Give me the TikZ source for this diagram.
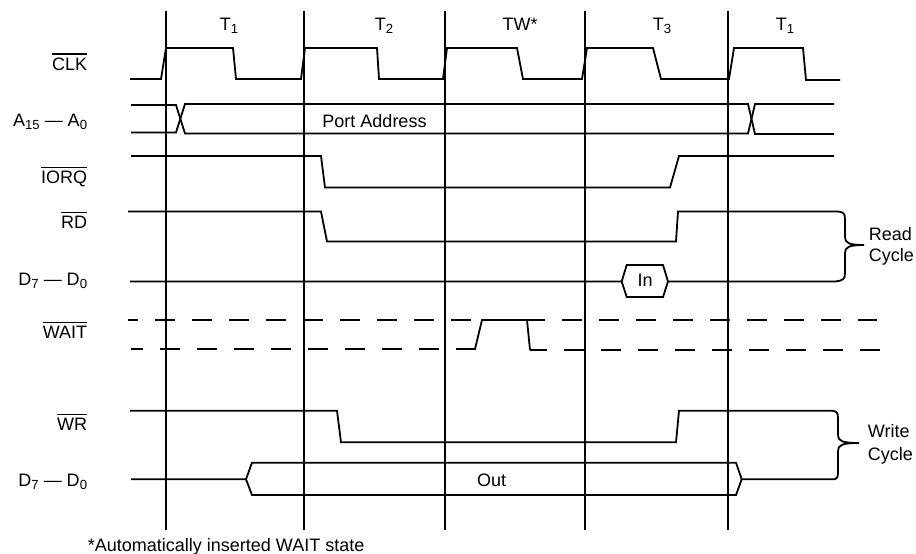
\documentclass[tikz,border=0pt]{standalone}
\usepackage{fontspec}
\setmainfont{Liberation Sans}
\newcommand\ovbar[1]{\setbox0\hbox{#1}\rlap{\raisebox{\dimexpr\ht0+2.6pt\relax}{\rule{\wd0}{1.5pt}}}\box0}
\newcommand\subx[1]{\raisebox{-3pt}{\fontsize{13.2}{14}\selectfont #1}}
\begin{document}
\begin{tikzpicture}[x=1pt,y=-1pt,line width=1.8pt,line join=miter,
  tx/.style={font=\fontsize{18}{20}\selectfont,inner sep=0pt},
  lbl/.style={tx,anchor=base east},
  hdr/.style={tx,anchor=base},
  wave/.style={line width=1.8pt},
  dsh/.style={line width=1.8pt,dash pattern=on 20pt off 17pt}]
\useasboundingbox (0,0) rectangle (916,554);
% period boundaries
\foreach \x in {166,304,445,585,728} \draw (\x,11) -- (\x,530);
% headers
\node[hdr] (h1) at (229,30.7) {T\subx{1}};
\node[hdr] (h2) at (384,30.7) {T\subx{2}};
\node[hdr] (h3) at (520,30.2) {TW*};
\node[hdr] (h4) at (662,30.7) {T\subx{3}};
\node[hdr] (h5) at (785,30.7) {T\subx{1}};
% signal labels
\node[lbl] (lclk) at (88,70) {\ovbar{CLK}};
\node[lbl] (ladr) at (88,126.7) {A\subx{15} — A\subx{0}};
\node[lbl] (liorq) at (88,183.3) {\ovbar{IORQ}};
\node[lbl] (lrd) at (88,228.3) {\ovbar{RD}};
\node[lbl] (ldr) at (88,285) {D\subx{7} — D\subx{0}};
\node[lbl] (lwait) at (88,338.3) {\ovbar{WAIT}};
\node[lbl] (lwr) at (88,430) {\ovbar{WR}};
\node[lbl] (ldw) at (88,486) {D\subx{7} — D\subx{0}};
% CLK
\draw[wave] (130,79) -- (161,79) -- (166,48) -- (233,48) -- (236,79) -- (301,79) -- (305,48)
  -- (377,48) -- (379,79) -- (443,79) -- (447,48) -- (517,48) -- (523,79) -- (582,79)
  -- (587,48) -- (653,48) -- (661,79) -- (729,79) -- (734,48) -- (803,48) -- (806,80) -- (840,80);
% Address bus
\draw[wave] (131,105) -- (176,105) -- (185,133.5) -- (748,133.5) -- (755,104) -- (834,104);
\draw[wave] (131,132.5) -- (176,132.5) -- (185,104) -- (748,104) -- (755,134) -- (834,134);
\node[hdr] (padr) at (374.5,127.3) {Port Address};
% IORQ
\draw[wave] (131,156) -- (321,156) -- (325,187.5) -- (670,187.5) -- (679,156) -- (834,156);
% RD
\draw[wave] (128,211.5) -- (321,211.5) -- (327,241.5) -- (676,241.5) -- (678,211.5) -- (835,211.5);
% D read
\draw[wave] (130,281.5) -- (621.7,281.5) -- (626.7,265) -- (663,265) -- (668,281.5) -- (835,281.5);
\draw[wave] (621.7,281.5) -- (626.7,297) -- (663,297) -- (668,281.5);
\node[hdr] (din) at (645,286.7) {In};
% Read brace
\draw[wave] (835,211.5) .. controls (843,211.5) and (845,212.5) .. (845,219) -- (845,237)
  .. controls (845,243) and (849,245) .. (864,245)
  .. controls (849,245) and (845,247) .. (845,253) -- (845,273)
  .. controls (845,279.5) and (843,280.5) .. (835,281.5);
\node[tx,anchor=base west] (rd1) at (868,240) {Read};
\node[tx,anchor=base west] (rd2) at (868,261.7) {Cycle};
% WAIT
\draw[dsh,dash phase=10pt] (128,320) -- (877,320);
\draw[dsh,dash phase=8pt] (131,349) -- (465,349);
\draw[wave] (465,349) -- (475,349) -- (482,320) -- (527,320) -- (530,350);
\draw[dsh,dash phase=3pt] (530,350) -- (880,350);
% WR
\draw[wave] (130,410.7) -- (337,410.7) -- (341,442.3) -- (676,442.3) -- (679,410.7) -- (830,410.7);
% D write
\draw[wave] (131,479.3) -- (246,479.3) -- (252,462.7) -- (736,462.7) -- (741.7,479.3) -- (835,479.3);
\draw[wave] (246,479.3) -- (252,495) -- (736,495) -- (741.7,479.3);
\node[hdr] (dout) at (491.7,486) {Out};
% Write brace
\draw[wave] (830,410.7) .. controls (836,410.7) and (838,411.5) .. (838,418) -- (838,435)
  .. controls (838,441) and (842,443) .. (859,443)
  .. controls (842,443) and (838,445) .. (838,451) -- (838,471)
  .. controls (838,477.5) and (837,478.5) .. (835,479.3);
\node[tx,anchor=base west] (wr1) at (867,437.3) {Write};
\node[tx,anchor=base west] (wr2) at (867,460) {Cycle};
% footnote
\node[tx,anchor=base west] (foot) at (87,551.5) {*Automatically inserted WAIT state};
\end{tikzpicture}
\end{document}
